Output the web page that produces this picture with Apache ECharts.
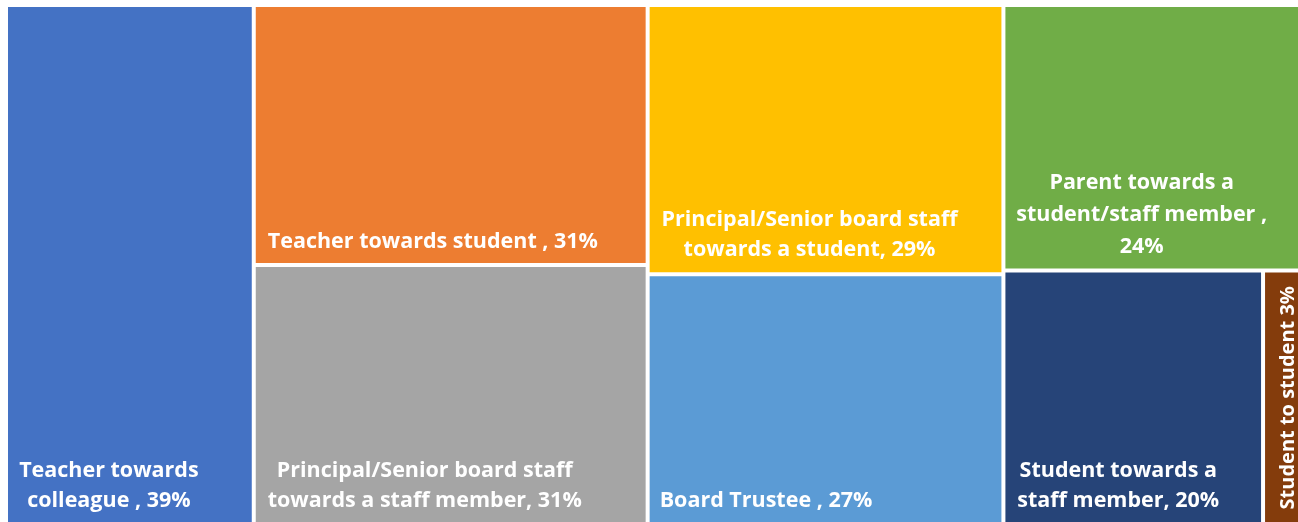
<!DOCTYPE html>
<html>
<head>
<meta charset="utf-8">
<script src="https://cdn.jsdelivr.net/npm/echarts@6/dist/echarts.min.js"></script>
<style>
html, body { margin: 0; padding: 0; background: #ffffff; }
#chart { width: 1298px; height: 522px; }
</style>
</head>
<body>
<div id="chart"></div>
<script>
const categories = [
  'Teacher towards colleague',
  'Teacher towards student',
  'Principal/Senior board staff towards a staff member',
  'Principal/Senior board staff towards a student',
  'Board Trustee',
  'Parent towards a student/staff member',
  'Student towards a staff member',
  'Student to student'
];
const values = [39, 31, 31, 29, 27, 24, 20, 3];
const labelTexts = [
  'Teacher towards\ncolleague , 39%',
  'Teacher towards student , 31%',
  'Principal/Senior board staff\ntowards a staff member, 31%',
  'Principal/Senior board staff\ntowards a student, 29%',
  'Board Trustee , 27%',
  'Parent towards a\nstudent/staff member ,\n24%',
  'Student towards a\nstaff member, 20%',
  'Student to student 3%'
];
const colors = ['#4472C4', '#ED7D31', '#A5A5A5', '#FFC000', '#5B9BD5', '#70AD47', '#264478', '#843C0C'];
// how the cells are grouped into columns / blocks (indices into the arrays above)
const groups = [0, [1, 2], [3, 4], [5, [6, 7]]];

// label placement per cell
const labelPlacement = [
  { position: 'insideBottom', offset: [-21, 3] },
  { position: 'insideBottomLeft', offset: [2, 4] },
  { position: 'insideBottom', offset: [-26, 3] },
  { position: 'insideBottom', offset: [-16, 3] },
  { position: 'insideBottomLeft', offset: [0, 3] },
  { position: 'insideBottom', offset: [-11, 4], lineHeight: 32 },
  { position: 'insideBottom', offset: [-15, 3] },
  { position: 'inside', rotate: 90, overflow: 'none', offset: [0, 6], fontSize: 20 }
];

function leaf(i) {
  return {
    name: categories[i],
    value: values[i],
    itemStyle: { color: colors[i] },
    label: Object.assign({ formatter: labelTexts[i] }, labelPlacement[i])
  };
}
let gid = 0;
function build(g) {
  if (Array.isArray(g)) {
    gid++;
    return { name: 'group' + gid, children: g.map(build), itemStyle: { color: '#ffffff' } };
  }
  return leaf(g);
}
const treeData = groups.map(build);

const chart = echarts.init(document.getElementById('chart'), null, { renderer: 'canvas' });
chart.setOption({
  backgroundColor: '#ffffff',
  animation: false,
  series: [{
    type: 'treemap',
    left: 8,
    top: 7,
    width: 1292,
    height: 516,
    roam: false,
    nodeClick: false,
    sort: false,
    squareRatio: 0.3,
    drillDownIcon: '',
    breadcrumb: { show: false },
    itemStyle: { borderWidth: 0, gapWidth: 4, borderColor: '#ffffff' },
    upperLabel: { show: false },
    label: {
      show: true,
      color: '#ffffff',
      fontFamily: 'Open Sans',
      fontWeight: 'bold',
      fontSize: 21.5,
      lineHeight: 30,
      padding: 0,
      distance: 10
    },
    emphasis: { disabled: true },
    data: treeData
  }]
});
</script>
</body>
</html>
